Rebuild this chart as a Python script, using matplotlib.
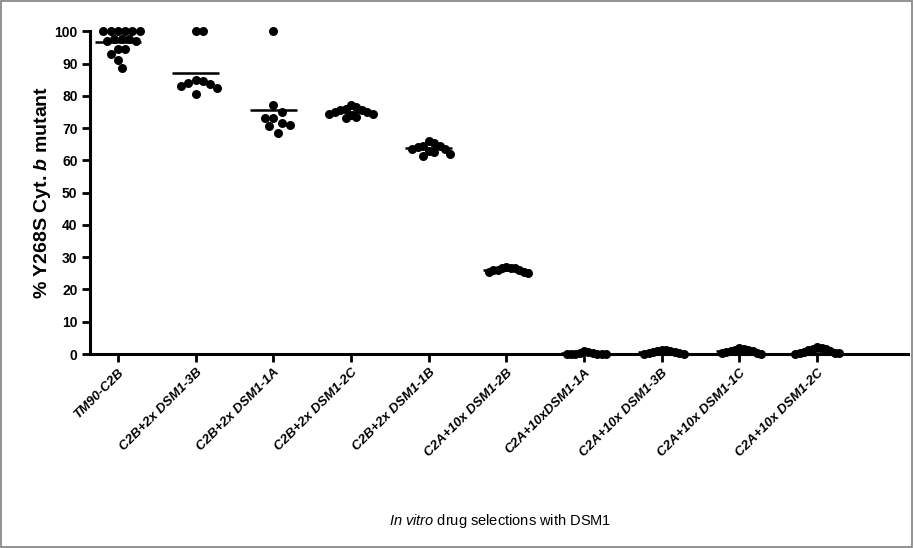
#
# Column scatter of Y268S mutant fraction per selection
#
import matplotlib
matplotlib.use('Agg')
import matplotlib.pyplot as plt
from matplotlib.patches import Rectangle
import numpy as np

plt.rcParams['font.family'] = ['Liberation Sans', 'DejaVu Sans']
plt.rcParams['mathtext.fontset'] = 'custom'
plt.rcParams['mathtext.it'] = 'Liberation Sans:italic'
plt.rcParams['mathtext.bfit'] = 'Liberation Sans:italic:bold'
plt.rcParams['mathtext.rm'] = 'Liberation Sans'

# Group labels
labels = ['TM90-C2B', 'C2B+2x DSM1-3B', 'C2B+2x DSM1-1A', 'C2B+2x DSM1-2C',
          'C2B+2x DSM1-1B', 'C2A+10x DSM1-2B', 'C2A+10xDSM1-1A',
          'C2A+10x DSM1-3B', 'C2A+10x DSM1-1C', 'C2A+10x DSM1-2C']

# % mutant values read for each group
g1 = [100, 100, 100, 100, 100, 100, 97.5, 97.5, 97.5, 97, 97, 94.5, 94.5, 93, 91, 88.5]
g2 = [100, 100, 85, 84.5, 84, 83.5, 83, 82.5, 80.5]
g3 = [100, 77, 75, 73, 73, 71.5, 71, 70.5, 68.5]
g4 = [77, 76.5, 76, 75.5, 75.5, 75, 75, 74.5, 74.5, 74, 73.5, 73]
g5 = [66, 65.5, 64.5, 64.5, 64, 63.5, 63.5, 63, 62.5, 62, 61.5]
g6 = [27, 26.5, 26.5, 26.5, 26, 26, 26, 25.5, 25.5, 25]
g7 = [0, 0, 0, 0, 0, 0, 0.2, 0.3, 0.5, 1.0]
g8 = [0, 0, 0.2, 0.3, 0.5, 0.6, 0.8, 1.0, 1.2, 1.3]
g9 = [0, 0.2, 0.3, 0.5, 0.8, 1.0, 1.2, 1.3, 1.5, 2.0]
g10 = [0, 0.2, 0.3, 0.4, 0.5, 0.8, 1.2, 1.5, 1.6, 1.8, 2.2]
groups = [g1, g2, g3, g4, g5, g6, g7, g8, g9, g10]

fig = plt.figure(figsize=(9.14, 5.48), dpi=100)
ax = fig.add_axes([0.0985, 0.354, 0.895, 0.589])
ax.set_xlim(-0.36, 10.17)
ax.set_ylim(0, 100)

# pixel scale, used to spread overlapping dots side by side
px_x = 0.895 * 914 / (10.17 + 0.36)
px_y = 0.589 * 548 / 100.0
dot = 8.5  # dot diameter in px

def swarm(vals, maxw=0.28):
    order = np.argsort(vals)[::-1]
    placed = []
    offs = np.zeros(len(vals))
    for i in order:
        y = vals[i] * px_y
        k = 0
        while True:
            cands = [0.0] if k == 0 else [k * dot * 0.5, -k * dot * 0.5]
            ok = None
            for c in cands:
                if all((c - px) ** 2 + (y - py) ** 2 >= dot ** 2 for px, py in placed):
                    ok = c
                    break
            if ok is not None:
                break
            k += 1
        placed.append((ok, y))
        offs[i] = ok / px_x
    m = np.abs(offs).max()
    if m > maxw:
        offs = offs * maxw / m
    return offs

for i, vals in enumerate(groups):
    vals = np.array(vals, dtype=float)
    xs = i + swarm(vals)
    ax.scatter(xs, vals, s=42, color='black', zorder=3, clip_on=False, linewidths=0)
    ax.hlines(np.mean(vals), i - 0.3, i + 0.3, color='black', lw=1.8, zorder=4, clip_on=False)

for side in ['top', 'right']:
    ax.spines[side].set_visible(False)
for side in ['left', 'bottom']:
    ax.spines[side].set_linewidth(2.2)

ax.set_yticks(np.arange(0, 101, 10))
ax.set_xticks(range(len(labels)))
ax.set_xticklabels(labels, rotation=45, ha='right', rotation_mode='anchor',
                   fontsize=9.5, fontweight='bold', fontstyle='italic')
for t in ax.get_yticklabels():
    t.set_fontweight('bold')
    t.set_fontsize(10)
ax.tick_params(axis='both', direction='out', length=5.5, width=2)

ax.set_ylabel(r'% Y268S Cyt. $\mathbfit{b}$ mutant', fontsize=14, fontweight='bold')
ax.yaxis.set_label_coords(-0.045, 0.5)
fig.text(0.547, 0.042, r'$\mathit{In\ vitro}$ drug selections with DSM1', ha='center', fontsize=10.5)

# thin grey frame around the whole picture
fig.patches.append(Rectangle((0.001, 0.002), 0.997, 0.996, transform=fig.transFigure,
                             fill=False, edgecolor='#7f7f7f', lw=1.2))

fig.savefig('out.png', dpi=100)
